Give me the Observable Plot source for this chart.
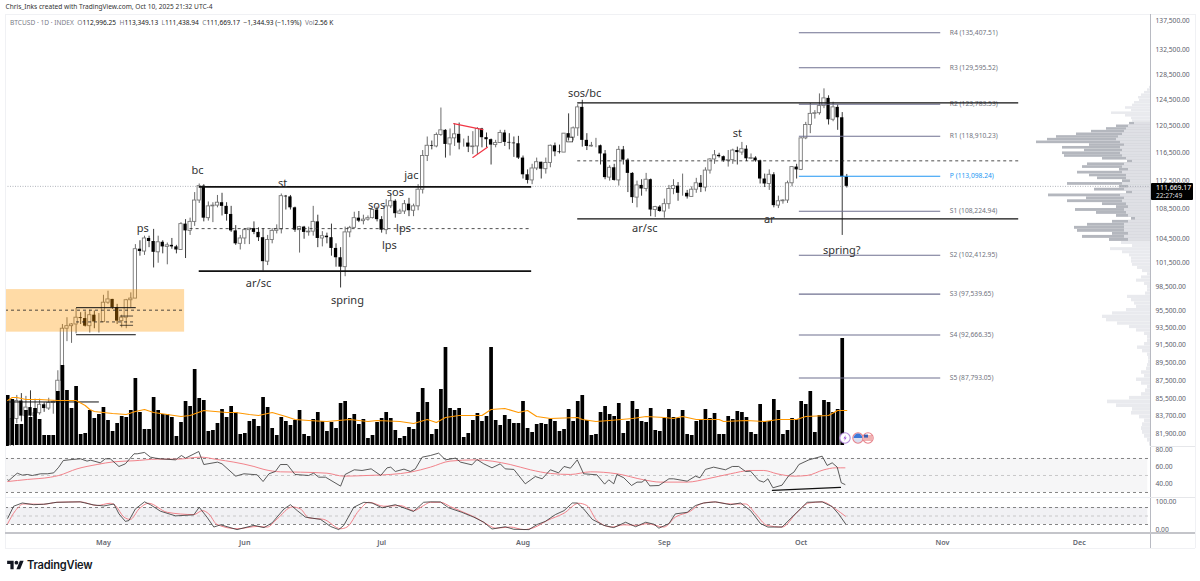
<!DOCTYPE html>
<html><head><meta charset="utf-8">
<script src="https://cdn.jsdelivr.net/npm/d3@7"></script>
<script src="https://cdn.jsdelivr.net/npm/@observablehq/plot@0.6"></script>
<style>
html,body{margin:0;padding:0;background:#fff;font-family:"Noto Sans",sans-serif}
#c{position:relative;width:1200px;height:581px;overflow:hidden}
#c svg.plot,#c>svg{position:absolute;left:0;background:transparent;overflow:visible}
.sep{position:absolute}
.h{position:absolute;white-space:pre;line-height:1}
</style></head><body><div id="c"></div>
<script>
// ---------- candles (thousand USD), first bar Apr 10 2025, one per day ----------
const firstOpen = 82.6;
const closes = [79.6,83.4,85.3,83.7,84.6,83.7,84.0,84.9,84.5,85.1,85.2,87.5,93.4,93.7,93.9,94.7,94.6,93.7,95.0,94.2,94.2,
96.5,96.9,95.9,94.3,94.7,96.8,97.0,103.2,102.9,104.6,104.2,102.8,104.1,103.5,103.7,103.5,103.1,106.5,105.6,106.8,109.7,111.7,107.3,108.9,109.0,109.4,108.9,107.8,105.6,103.9,104.6,
105.7,105.9,105.4,104.7,101.6,104.4,105.6,105.8,110.3,110.2,108.7,105.7,106.1,105.4,105.5,106.8,104.6,104.9,104.7,103.3,102.1,100.9,105.4,106.0,107.3,106.9,107.1,107.3,108.4,107.1,
105.7,108.9,109.6,107.9,108.2,109.2,108.3,108.9,111.2,116.0,117.5,117.4,119.1,119.8,117.7,118.6,119.2,117.9,117.9,117.3,117.4,120.0,118.7,118.4,117.6,117.9,119.4,118.0,117.9,117.8,115.7,
113.3,112.5,114.2,115.1,114.1,115.0,117.5,116.6,116.5,119.3,118.7,120.1,123.3,118.3,117.4,117.5,117.5,116.3,112.9,114.3,112.5,116.9,115.4,113.5,110.1,111.8,111.3,112.6,108.4,108.8,108.2,
109.2,111.3,111.7,110.7,110.7,110.2,111.2,112.1,111.5,113.9,115.5,116.1,115.9,115.3,115.4,116.8,116.5,117.0,115.6,115.7,115.3,112.7,112.0,113.3,109.0,109.6,109.7,112.1,114.4,114.0,
118.6,120.6,122.3,122.4,123.5,124.7,121.4,123.3,121.7,112.996,111.669];
const highs = [82.7,84.3,85.9,86.1,85.8,86.4,85.5,85.5,85.1,85.6,85.3,88.6,93.9,94.7,94.0,95.8,95.3,95.4,95.6,95.5,95.2,
97.4,97.9,96.9,96.3,95.0,96.9,97.7,103.8,104.3,104.9,104.9,105.8,104.9,104.3,104.0,104.6,103.7,106.7,107.1,107.3,110.8,112.0,111.9,109.5,109.4,110.4,110.7,109.4,108.9,106.3,105.0,
105.9,105.9,106.8,106.0,105.9,105.0,105.9,106.4,110.6,110.4,110.4,108.8,106.2,106.2,106.1,108.9,107.7,105.5,105.3,106.5,103.9,103.4,106.1,106.2,108.1,108.2,107.7,107.6,108.5,108.8,
107.5,109.8,110.5,109.8,108.5,109.7,110.0,109.2,111.9,116.8,118.8,118.2,119.4,123.2,119.9,120.0,120.8,120.9,118.5,118.9,119.6,120.2,120.1,119.4,118.5,118.3,119.8,119.8,119.3,118.8,118.9,
116.0,114.0,114.8,115.7,115.1,115.7,117.6,117.9,117.6,119.3,122.3,120.3,123.7,124.4,119.3,118.0,118.6,117.6,116.8,114.6,114.8,117.4,117.4,115.6,113.6,112.4,112.6,113.5,112.7,108.9,109.0,
109.9,111.8,112.6,112.2,113.4,111.1,111.6,112.8,113.2,114.3,115.6,116.8,116.4,116.0,116.8,117.0,117.3,118.0,117.5,116.3,115.9,115.4,113.4,114.0,113.6,110.3,109.8,112.4,114.4,114.8,
118.7,121.0,123.9,122.8,125.4,126.2,125.1,124.1,123.7,122.5,113.349];
const lows = [78.4,78.9,82.9,83.1,83.7,83.6,83.2,83.8,84.1,84.3,83.9,85.1,87.1,91.9,91.7,92.8,93.9,93.6,92.9,93.4,92.9,
94.1,96.3,95.7,93.9,93.5,93.4,95.9,97.0,102.3,102.4,103.4,100.8,101.4,102.6,101.2,103.2,102.6,103.1,102.0,105.0,106.2,109.3,106.8,106.9,106.7,108.7,107.6,106.9,105.4,103.7,103.1,
103.8,103.8,105.1,104.2,100.4,101.1,103.9,105.2,105.2,108.4,108.4,105.4,102.7,104.5,104.9,104.9,103.4,103.5,103.9,102.3,100.9,98.3,99.7,104.7,105.9,106.7,106.4,106.9,107.2,106.8,
105.3,105.1,108.6,107.3,107.8,107.8,107.5,107.5,108.3,110.6,115.2,116.9,117.2,118.9,115.7,116.0,117.4,116.9,117.3,116.5,116.2,116.2,117.2,117.2,114.7,117.2,117.9,117.4,116.9,115.8,115.5,
112.7,112.0,111.9,113.9,112.7,113.4,114.3,115.9,116.3,116.5,118.2,118.2,118.9,117.3,116.8,117.3,117.2,114.7,112.6,112.4,112.4,111.7,114.7,110.8,109.3,108.7,110.3,110.9,107.5,107.4,108.1,
107.3,108.5,110.5,109.6,110.3,109.9,110.2,110.7,110.8,110.9,113.4,114.8,115.7,115.1,114.4,114.8,114.7,116.1,115.2,115.5,115.1,112.0,111.5,111.1,108.7,108.6,109.2,109.3,111.6,112.7,
113.9,118.4,119.3,121.5,122.1,123.1,120.6,121.1,119.8,105.0,111.439];
// ---------- volume (K), Apr 10 .. Oct 10 ----------
const volumes = [50,46,21,21,35,28,37,26,10,10,10,54,80,55,37,59,11,12,35,27,31,38,25,14,22,29,28,35,67,33,16,16,48,35,31,31,28,9,23,44,39,76,47,45,14,15,22,36,28,39,33,11,12,24,26,19,48,38,17,10,28,24,20,25,35,11,9,26,33,24,14,23,17,42,44,27,31,21,26,7,10,23,27,33,27,15,7,9,18,16,33,57,43,
11,16,56,98,37,35,37,8,12,25,32,24,29,98,25,20,30,26,22,22,44,17,13,21,22,21,26,24,14,16,36,24,44,50,25,10,11,33,39,31,29,42,12,24,44,36,24,23,37,15,14,27,36,28,27,35,11,10,24,26,36,27,32,11,11,29,26,34,33,28,13,11,41,24,24,46,35,11,15,27,26,44,41,54,13,30,45,43,33,36,107];
const volMaDay = [0,1,2,4,7,11,13,15,17,18,19,23,26,28,30,32,35,38,40,43,48,50,53,55,58,61,63,66,70,75,79,81,86,89,92,94,96,99,104,106,109,112,114,116,119,125,126,129,132,137,140,144,146,148,151,156,157,162,166,169,173,175,180,182,184];
const volMaVal = [45,48,48,46,46,45,45,45,40,36,34,32,31,34,36,33,31,29,30,35,33,33,31,30,33,29,26,25,24,26,24,25,24,22,26,23,28,30,30,36,37,33,35,29,27,28,26,24,25,27,29,28,27,29,26,26,24,25,24,26,26,29,30,35,35];
// ---------- RSI ----------
const rsiDay = [0,.25,2.1,3.2,4.3,5.4,7.2,8.7,10.1,11.2,12.2,14.1,16,17.4,18.2,20.3,21.4,22.5,24.4,25.8,27.7,28.4,30,31.3,32.4,33.5,36.8,38.1,39,41.9,43,46,47,50,51.8,54.7,56,57.3,58.7,59.8,61.3,63,66,67.1,68.2,69.7,73,74,76,77.7,79.7,81.8,83.2,84,85,86.9,88.3,89.4,90.9,92.7,94.5,96,98.2,99.3,101.8,102.9,104.4,106.2,108,109.1,111,113.5,115.7,117.2,119,120.8,122,123.4,124.9,126.3,129.2,130.9,131.8,132.9,133.6,135.1,136.8,138,139.1,139.8,140.8,142.8,145,146,149,150.8,151.8,153,154.8,157.4,158.9,160.3,161.8,162.9,164.7,165.8,166.7,167.8,169.8,171.3,172.4,173.5,175.7,178.6,179.7,180.8,181.9,182.8,183.6];
const rsiVal = [44.9,44.1,52.7,50.4,51.2,50,52,52,53.1,59.8,67.6,68.8,69.6,66.9,68,64.9,69.6,69.6,60.6,63.7,75.5,75.5,77.1,71.6,70.4,69.6,68.4,73.5,70.4,78.2,62.9,65.7,63.7,49.2,52,50.8,42.9,52,54.7,62.9,62.9,51.2,50,52.7,48,48,37.5,51.2,56.7,55.9,57.8,50,59,59.8,54.7,57.5,54.7,57.8,71.6,73.5,76.3,68.4,70.4,65.7,62.5,68.8,63.7,59,63.7,57.8,57.1,40.2,48.8,46.1,56.7,53.1,60.6,58.6,68.4,52,50.8,39.8,44.9,40.2,51.2,47.3,38.2,42.2,42.2,45.3,37.8,38.2,46.1,46.1,43.3,49.2,47.3,57.1,59.8,56.7,60.6,60.6,54.7,55.1,44.1,42.2,46.1,35.5,38.6,50,53.9,62.9,68.4,72.7,61.8,64.9,59.8,41.4,39.4];
const rsiMaDay = [0,4.3,9.4,11.2,15.2,19.6,23.3,27.7,32.8,37.2,42.3,45.9,49.6,54,56.2,59.8,64.2,70,73.7,78.8,83.9,88.3,92.7,97,102.6,110.2,114.6,119,123.4,127.8,133.6,139.5,143.1,149,153.4,158.5,162.9,165.8,168.7,172.4,175.3,179,181.5,183.6];
const rsiMaVal = [42.9,45.3,48,50,57.8,62.9,66.1,67.3,69.2,69.2,71.6,68.8,65.7,60.6,57.1,54.3,53.9,52.7,49.2,50,51.2,53.9,59.8,66.9,68.4,62.9,56.7,52.4,51.2,54.3,52,44.9,42.2,42.2,46.1,52,55.9,55.9,52,49.2,50,56.7,59,59];
// ---------- Stochastic ----------
const kDay = [0,1.3,3.2,5.7,7.9,10.8,15.9,18.9,21.1,23.3,24.4,25.8,26.6,28,30,31.3,33.5,36.8,40.8,42,43.7,45.2,46.7,50.3,54,56.2,58,60.6,62,63.5,65.3,68.6,70.8,72.6,73.7,75.9,78.1,79.9,82.1,85,89,91.2,92.7,94.9,96.7,99.6,102.2,104.4,106.2,109.1,111,114.3,116.1,117.9,120.1,122,123.8,124.9,126.3,128.2,130.7,132.9,135.5,137.7,139.9,141.7,142.8,145,146.4,149,150.8,152.6,155.2,158.5,160.7,162.9,165.1,166.7,169.8,172,175.3,178.6,180.8,182.2,183.7];
const kVal = [42,84.5,96,90,91.5,98.5,100,89,85.5,92.5,57.5,31,34,75,100,90,67,50.5,54,81,46,11,19,2,17,9,26,75,90,69,46,38,13,2,17,81,98.5,96,79,90,66,98.5,100,99.7,79,63,46,28,4,12,3,2,20,31,55,69,96,96,75,38,17,9,28,12,28,21,7,23,57.5,63,87,96,100,90,96,69,23,11,11,46,98.5,100,83,57.5,23];
const dDay = [0,1.7,3.5,7.9,10.8,15.9,19.6,22.5,23.6,25.5,26.9,28.8,30.9,35,40.8,42.7,44.1,45.9,50.3,54.7,56.9,59.1,62.4,64.2,66,69.3,73,74.4,77,79.2,82.5,86.1,89,91.2,92.7,94.9,97.1,100,102.9,105.5,107,110.2,113.2,115.4,118.3,122,125.2,127,129.2,132.5,135.1,138,140.2,143.9,146.4,149.7,151.9,154.8,158.5,161.8,164,166.5,169.8,173.1,175.7,178.6,181.5,183.7];
const dVal = [23,69,92.5,91.5,98.5,100,87,95,87,46,38,75,95,63,55,69,57.5,20,5,13,11,40,82,75,43.5,38,5,11,69,98.5,84.5,87,69,87,98.5,98.5,83,63,42,17,7,11,2,9,34,60,95,87,34,11,19,17,23,11,46,67,92.5,99.7,92.5,92.5,57.5,17,11,63,96,100,75,49];
// ---------- volume profile: rows from 126,400 down, 400 USD each ----------
const profileTop = 126400, profileStep = 400;
const profileWidth = [1,3,6,9,12,11,16,18,25,19,39,25,19,
18,21,34,44,59,74,94,103,114,61,88,66,88,86,48,23,63,68,31,73,61,53,28,83,31,56,24,102,64,83,48,34,75,54,34,19,38,63,76,73,38,68,41,29,18,
40,28,21,19,19,18,13,8,3,9,14,6,3,3,5,23,19,16,14,24,38,48,44,33,21,14,6,3,3,6,13,8,3,2,2,3,4,9,6,14,9,3,5,9,21,43,34,18,19,11,6,8,9,8,6,3,1];
const valueAreaHigh = 120800, valueAreaLow = 104400;
const profileInner = [16,22,24,26,28,32,34,30,26,30,28,30,28,24,18,26,28,22,28,24,24,20,28,22,26,18,30,26,28,24,22,26,24,22,15,22,26,26,26,22,26,22];
// ---------- axis ticks ----------
const priceTicks = [137500,132500,128500,124500,120500,116500,112500,108500,104500,101500,98500,95500,93500,91500,89500,87500,85500,83700,81900];
const rsiTicks = [80,60,40], stochTicks = [100,0];
const monthTicks = ["2025-05-01","2025-06-01","2025-07-01","2025-08-01","2025-09-01","2025-10-01","2025-11-01","2025-12-01"];
// ---------- pivots ----------
const pivotNames = ["R4","R3","R2","R1","P","S1","S2","S3","S4","S5"];
const pivotValues = [135407.51,129595.52,123783.53,118910.23,113098.24,108224.94,102412.95,97539.65,92666.35,87793.05];
// ---------- drawn lines: start day, end day, price ----------
const solidStart = [42,42,125,125,15.1,15.1,-.48,24.7,24.7];
const solidEnd   = [114.9,114.9,221.7,221.7,28.2,28.2,20.1,27.6,27.6];
const solidPrice = [111600,100400,124000,107200,95900,92700,85200,94900,93800];
const solidWidth = [1.7,1.7,1.3,1.3,1,1,1,.7,.7];
const dashStart = [40,125,15.1,-.48];
const dashEnd   = [114.9,221.7,27.6,38.8];
const dashPrice = [105900,115300,94200,95600];
// ---------- labels ----------
const noteText  = ["bc","st","ps","ar/sc","spring","sos","sos","jac","lps","lps","sos/bc","ar/sc","st","ar","spring?"];
const noteDay   = [41.6,60.3,29.6,55,74.5,80.9,85,88.5,86.8,83.7,126.5,139.7,160,167,182.9];
const notePrice = [113900,112100,105900,98900,96800,109000,110800,113200,105900,103700,125500,105900,119300,107100,103000];
const lastPrice = 111669.17;

const dt = i => new Date(Date.UTC(2025,3,10) + i*864e5);
const xScale = {type:"utc", domain:[dt(-.48), dt(250.6)], axis:null};
const W = 1200, ML = 5, MR = 50;
const priceY = {type:"log", domain:[80570,138539], axis:null};
const base = {width:W, marginLeft:ML, marginRight:MR, style:"background:transparent;overflow:visible;font-family:'Noto Sans',sans-serif"};
const fmt = d3.format(",.2f");
const candles = closes.map((c,i)=>({date:dt(i), o:(i?closes[i-1]:firstOpen)*1000, h:highs[i]*1000, l:lows[i]*1000, c:c*1000}));
const up = candles.filter(d=>d.c>=d.o), down = candles.filter(d=>d.c<d.o);
const halfBar = 0.36*864e5;
const bodyOpts = {x1:d=>new Date(+d.date-halfBar), x2:d=>new Date(+d.date+halfBar), y1:"o", y2:"c", clip:true};
const host = document.getElementById("c");
function add(svg, top){ svg.style.top = top+"px"; svg.style.left="0"; svg.style.position="absolute"; host.appendChild(svg); }
const rightLabels = ticks => Plot.text(ticks,{y:d=>d,text:d=>fmt(d),frameAnchor:"right",dx:5,textAnchor:"start",fontSize:6.7,fill:"#5d606b"});

// profile
const rows = profileWidth.map((w,i)=>({hi:profileTop-i*profileStep+profileStep/2, lo:profileTop-i*profileStep-profileStep/2+12, p:profileTop-i*profileStep, w}));
const darkRows = rows.filter(r=>r.p<=valueAreaHigh && r.p>=valueAreaLow);
const lightRows = rows.filter(r=>r.p>valueAreaHigh || r.p<valueAreaLow);
add(Plot.plot({...base, height:432, marginTop:0, marginBottom:0,
  x:{domain:[0,150], range:[1150,1000], axis:null}, y:priceY,
  marks:[
    Plot.rect(lightRows,{x1:0,x2:"w",y1:"lo",y2:"hi",fill:"#e9eaee"}),
    Plot.rect(darkRows,{x1:0,x2:"w",y1:"lo",y2:"hi",fill:"#b4b7be"}),
    Plot.rect(darkRows,{x1:0,x2:(d,i)=>profileInner[i],y1:"lo",y2:"hi",fill:"#dfe0e5"})
  ]}), 14);

// candles
add(Plot.plot({...base, height:432, marginTop:0, marginBottom:0, x:xScale, y:priceY,
  marks:[
    Plot.text(["BTCUSD, 1D"],{x:dt(127),y:113000,text:d=>d,fontSize:47,fill:"#000",fillOpacity:.02}),
    Plot.text(["Bitcoin / U.S. Dollar"],{x:dt(127),y:103900,text:d=>d,fontSize:23,fill:"#000",fillOpacity:.02}),
    Plot.ruleY([lastPrice],{stroke:"#9ea1a9",strokeWidth:.8,strokeDasharray:"1 1.5"}),
    Plot.ruleX(up,{x:"date",y1:"l",y2:"h",stroke:"#5a5a5a",strokeWidth:.9,clip:true}),
    Plot.ruleX(down,{x:"date",y1:"l",y2:"h",stroke:"#222",strokeWidth:.9,clip:true}),
    Plot.rect(up,{...bodyOpts,fill:"#fff",stroke:"#777",strokeWidth:.9}),
    Plot.rect(down,{...bodyOpts,fill:"#000"})
  ]}), 14);

// volume (drawn over the candles)
add(Plot.plot({...base, height:436, marginTop:0, marginBottom:5, x:xScale, y:{domain:[0,431],axis:null},
  marks:[
    Plot.ruleX(volumes,{x:(d,i)=>dt(i), y1:0, y2:d=>d, stroke:"#000", strokeWidth:3.7})
  ]}), 14);

// annotations on price
const zone = [{x1:dt(-.48),x2:dt(38.8),y1:93000,y2:98100}];
const pivotRows = pivotNames.map((n,i)=>({n,v:pivotValues[i]}));
add(Plot.plot({...base, height:432, marginTop:0, marginBottom:0, x:xScale, y:priceY,
  marks:[
    Plot.rect(zone,{x1:"x1",x2:"x2",y1:"y1",y2:"y2",fill:"#ff9800",fillOpacity:.35}),
    Plot.ruleY(pivotRows,{y:"v",x1:dt(173.6),x2:dt(204.6),stroke:d=>d.n==="P"?"#2196f3":"#6f7190",strokeWidth:1.1}),
    Plot.text(pivotRows,{x:dt(206.6),y:"v",text:d=>`${d.n} (${fmt(d.v)})`,textAnchor:"start",fontSize:6.7,fill:d=>d.n==="P"?"#2196f3":"#70737e"}),
    Plot.ruleY(solidPrice,{y:d=>d,x1:(d,i)=>dt(solidStart[i]),x2:(d,i)=>dt(solidEnd[i]),stroke:"#111",strokeWidth:(d,i)=>solidWidth[i]}),
    Plot.ruleY(dashPrice,{y:d=>d,x1:(d,i)=>dt(dashStart[i]),x2:(d,i)=>dt(dashEnd[i]),stroke:"#222",strokeWidth:.8,strokeDasharray:"3 3"}),
    Plot.line([[dt(97.8),120800],[dt(104.2),119900]],{stroke:"#f23645",strokeWidth:1.2}),
    Plot.line([[dt(102),115800],[dt(105.2),117300]],{stroke:"#f23645",strokeWidth:1.2}),
    Plot.rect([{}],{x1:dt(122.7),x2:dt(124),y1:118000,y2:118700,fill:"none",stroke:"#222",strokeWidth:.7}),
    Plot.text(noteText,{x:(d,i)=>dt(noteDay[i]),y:(d,i)=>notePrice[i],text:d=>d,fontSize:11,fill:"#333"}),
    rightLabels(priceTicks)
  ]}), 14);

// volume average line
add(Plot.plot({...base, height:436, marginTop:0, marginBottom:5, x:xScale, y:{domain:[0,431],axis:null},
  marks:[ Plot.line(volMaVal,{x:(d,i)=>dt(volMaDay[i]), y:d=>d, stroke:"#ff9800", strokeWidth:1.1}) ]}), 14);

// RSI
add(Plot.plot({...base, height:51, marginTop:0, marginBottom:0, x:xScale, y:{domain:[24.1,84.1],axis:null},
  marks:[
    Plot.rect([{}],{x1:dt(-.48),x2:dt(250),y1:30,y2:70,fill:"#f6f6f7"}),
    Plot.ruleY([70,30],{stroke:"#666",strokeWidth:.8,strokeDasharray:"3 3"}),
    Plot.ruleY([50],{stroke:"#b5b5b5",strokeWidth:.7,strokeDasharray:"3 3"}),
    Plot.line(rsiMaVal,{x:(d,i)=>dt(rsiMaDay[i]),y:d=>d,stroke:"#f2838b",strokeWidth:1,curve:"monotone-x"}),
    Plot.line(rsiVal,{x:(d,i)=>dt(rsiDay[i]),y:d=>d,stroke:"#333",strokeWidth:.8}),
    Plot.line([[dt(167.7),32.4],[dt(182.6),35.9]],{stroke:"#111",strokeWidth:1.3}),
    rightLabels(rsiTicks)
  ]}), 446);

// Stochastic + time axis
add(Plot.plot({...base, height:51, marginTop:0, marginBottom:15, x:xScale, y:{domain:[-11.8,115.4],axis:null},
  marks:[
    Plot.rect([{}],{x1:dt(-.48),x2:dt(250),y1:20,y2:80,fill:"#f1f1f4"}),
    Plot.ruleY([80,20],{stroke:"#666",strokeWidth:.8,strokeDasharray:"3 3"}),
    Plot.ruleY([50],{stroke:"#b5b5b5",strokeWidth:.7,strokeDasharray:"3 3"}),
    Plot.line(dVal,{x:(d,i)=>dt(dDay[i]),y:d=>d,stroke:"#f2838b",strokeWidth:1,curve:"monotone-x"}),
    Plot.line(kVal,{x:(d,i)=>dt(kDay[i]),y:d=>d,stroke:"#333",strokeWidth:.8}),
    rightLabels(stochTicks),
    Plot.axisX({anchor:"bottom",ticks:monthTicks.map(s=>new Date(s)),tickFormat:d=>d3.utcFormat("%b")(d),tickSize:0,tickPadding:6,fontSize:7.2,fontWeight:600,fill:"#63666f",label:null})
  ]}), 497);

// chrome
function box(l,t,w,h,bg,extra=""){ const d=document.createElement("div"); d.className="sep"; d.style.cssText=`left:${l}px;top:${t}px;width:${w}px;height:${h}px;background:${bg};${extra}`; host.appendChild(d); return d; }
function txt(l,t,html,css){ const d=document.createElement("div"); d.className="h"; d.style.cssText=`left:${l}px;top:${t}px;${css}`; d.innerHTML=html; host.appendChild(d); return d; }
box(5,14,1190,.8,"#f0f1f4");
box(5,14,.8,534,"#f0f1f4");
box(1194.5,14,.8,534,"#f0f1f4");
box(5,547.5,1190,.8,"#f0f1f4");
box(1150,14,1.3,534,"#b8bac2");
box(1150,446,45,.8,"#e6e7ea");
box(1150,497,45,.8,"#e6e7ea");
box(5,532,1190,1.7,"#c4c5ca");
box(5,497,1145,.8,"#eceef3");
txt(5.5,4,"Chris_Inks created with TradingView.com, Oct 10, 2025 21:32 UTC-4","font-size:6.6px;color:#333");
const g="color:#7a7d87", k="color:#222";
txt(10,19.5,`<span style="${g}">BTCUSD · 1D · INDEX</span>  <span style="${g}">O</span><span style="${k}">112,996.25</span>  <span style="${g}">H</span><span style="${k}">113,349.13</span>  <span style="${g}">L</span><span style="${k}">111,438.94</span>  <span style="${g}">C</span><span style="${k}">111,669.17</span>  <span style="${k}">−1,344.93 (−1.19%)</span>  <span style="${g}">Vol</span><span style="${k}">2.56 K</span>`,"font-size:6.6px");
box(1151,183,42,17,"#000","border-radius:1px;");
txt(1156,185,"111,669.17","font-size:6.9px;color:#fff");
txt(1156,192.5,"22:27:49","font-size:6.6px;color:#ddd");
// event icons
const ns=document.createElementNS("http://www.w3.org/2000/svg","svg");
ns.setAttribute("width",40);ns.setAttribute("height",14);ns.style.top="431px";ns.style.left="838px";
ns.innerHTML=`<circle cx="7" cy="7" r="5.2" fill="#fff" stroke="#b388d9" stroke-width="1.1"/><path d="M7.8 4 5.4 7.4h1.6L6.2 10l2.5-3.5H7.1z" fill="#9c4fd6"/>
<circle cx="20" cy="7" r="5.2" fill="#d9dff0" stroke="#e8828a" stroke-width="1.1"/><path d="M15.6 7a4.4 4.4 0 0 1 8.8 0z" fill="#3b78d8"/>
<circle cx="30" cy="7" r="5.2" fill="#fff" stroke="#e8828a" stroke-width="1.1"/><path d="M26 5h8M25.6 7h8.8M26 9h8" stroke="#e06666" stroke-width="1"/><path d="M26 3.6h4v3h-4z" fill="#3b5fb0"/>`;
host.appendChild(ns);
// logo
const lg=document.createElementNS("http://www.w3.org/2000/svg","svg");
lg.setAttribute("width",17);lg.setAttribute("height",13);lg.setAttribute("viewBox","0 0 36 28");lg.style.top="558.5px";lg.style.left="6.5px";
lg.innerHTML=`<path d="M14 22H7V11H0V4h14v18zM28 22h-8l7.5-18h8L28 22z" fill="#131722"/><circle cx="20" cy="8" r="4" fill="#131722"/>`;
host.appendChild(lg);
txt(27,559.5,"TradingView","font-family:Inter,Roboto,sans-serif;font-size:11.1px;font-weight:600;color:#131722;letter-spacing:-.2px");
</script></body></html>
